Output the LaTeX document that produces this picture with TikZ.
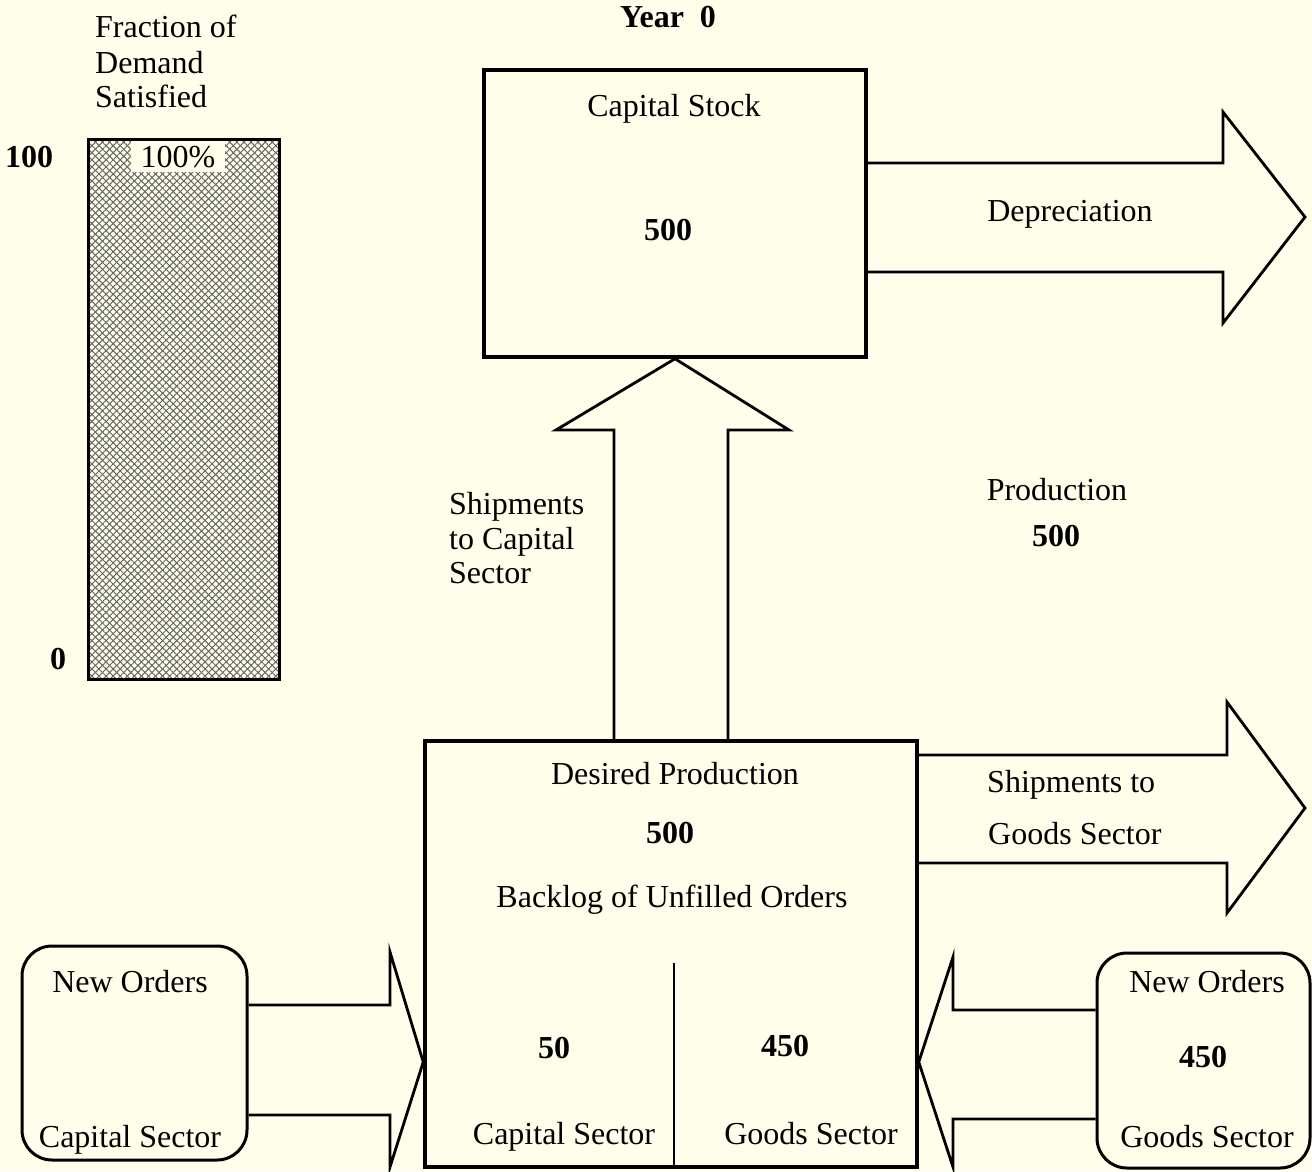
\documentclass[tikz,border=0pt]{standalone}
\usepackage{fontspec}
\setmainfont{Liberation Serif}
\usetikzlibrary{patterns.meta}
\definecolor{cream}{RGB}{254,254,234}
\begin{document}
\begin{tikzpicture}[x=1pt,y=-1pt,
  every node/.style={font=\fontsize{32}{36}\selectfont, inner sep=0pt},
  box/.style={draw, line width=3.5pt, fill=cream, rectangle},
  rbox/.style={draw, line width=3pt, fill=cream, rectangle, rounded corners=30pt},
  fat/.style={draw, line width=2.8pt, line join=miter},
  lbl/.style={anchor=base},
  lblw/.style={anchor=base west},
  num/.style={anchor=base, font=\fontsize{32}{36}\selectfont\bfseries},
  hatch/.style={pattern={Lines[angle=#1,distance=5pt,line width=1pt]}, pattern color=black!60}]
\fill[cream] (0,0) rectangle (1312,1171);
\useasboundingbox (0,0) rectangle (1312,1171);

% title
\node[num] (year) at (668,27) {Year\ \ 0};

% fraction bar
\node[lblw] (frac1) at (95,37) {Fraction of};
\node[lblw] (frac2) at (95,73) {Demand};
\node[lblw] (frac3) at (95,107) {Satisfied};
\node[minimum width=190pt, minimum height=539pt, hatch=45, postaction={hatch=-45}] (bar) at (184,409.5) {};
\draw[line width=3pt] (bar.north west) rectangle (bar.south east);
\node[anchor=base, fill=cream, inner xsep=10pt, inner ysep=5pt] (pct) at (178,167) {100\%};
\node[num, anchor=base west] (top) at (5,167) {100};
\node[num, anchor=base west] (bot) at (50,669) {0};

% boxes
\node[box, minimum width=382pt, minimum height=287pt] (cap) at (675,213.5) {};
\node[box, minimum width=492pt, minimum height=426pt] (lower) at (671,954) {};
\node[rbox, minimum width=225pt, minimum height=214pt] (lnew) at (134.5,1053) {};
\node[rbox, minimum width=213pt, minimum height=215pt] (rnew) at (1203.5,1060.5) {};

% fat arrows
\draw[fat] (cap.east |- 0,163) -- (1223,163) -- (1223,112) -- (1305,217) -- (1223,323) -- (1223,272) -- (cap.east |- 0,272);
\draw[fat] (614,0 |- lower.north) -- (614,430) -- (556,430) -- (cap.south) -- (789,430) -- (728,430) -- (728,0 |- lower.north);
\draw[fat] (lower.east |- 0,755) -- (1227,755) -- (1227,702) -- (1305,808) -- (1227,913) -- (1227,863) -- (lower.east |- 0,863);
\draw[fat] (lnew.east |- 0,1005) -- (390,1005) -- (390,952) -- (lower.west |- 0,1062) -- (390,1167) -- (390,1115) -- (lnew.east |- 0,1115);
\draw[fat] (rnew.west |- 0,1010) -- (953,1010) -- (953,957) -- (lower.east |- 0,1062) -- (953,1167) -- (953,1119) -- (rnew.west |- 0,1119);

% divider
\draw[line width=2.5pt] (674,963) -- (674,0 |- lower.south);

% texts
\node[lbl] (cstitle) at (674,116) {Capital Stock};
\node[num] (csnum) at (668,240) {500};
\node[lbl] (dep) at (1070,221) {Depreciation};
\node[lblw] (sc1) at (449,514) {Shipments};
\node[lblw] (sc2) at (449,549) {to Capital};
\node[lblw] (sc3) at (449,583) {Sector};
\node[lbl] (prod) at (1057,500) {Production};
\node[num] (prodnum) at (1056,546) {500};
\node[lblw] (sg1) at (987,792) {Shipments to};
\node[lblw] (sg2) at (988,844) {Goods Sector};
\node[lbl] (dp) at (675,784) {Desired Production};
\node[num] (dpn) at (670,843) {500};
\node[lbl] (bl) at (672,907) {Backlog of Unfilled Orders};
\node[num] (c50) at (554,1058) {50};
\node[num] (g450) at (785,1056) {450};
\node[lbl] (csec) at (564,1144) {Capital Sector};
\node[lbl] (gsec) at (811,1144) {Goods Sector};
\node[lbl] (lno1) at (130,992) {New Orders};
\node[lbl] (lno2) at (130,1147) {Capital Sector};
\node[lbl] (rno1) at (1207,992) {New Orders};
\node[num] (rno2) at (1203,1067) {450};
\node[lbl] (rno3) at (1207,1147) {Goods Sector};
\end{tikzpicture}
\end{document}
